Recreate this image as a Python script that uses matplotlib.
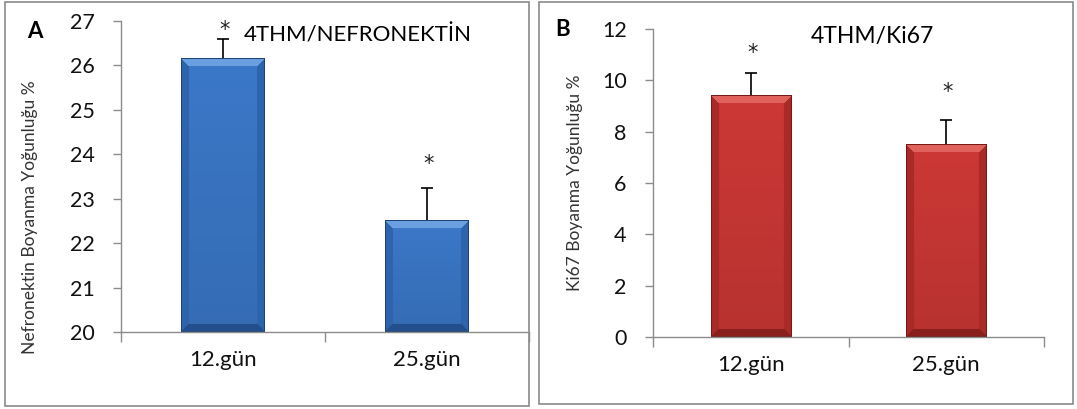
import numpy as np
import matplotlib.pyplot as plt
import matplotlib.patches as mpatches
from matplotlib.colors import to_rgb

plt.rcParams['font.family'] = ['Lato', 'DejaVu Sans']

# ---- data ----
days = ['12.gün', '25.gün']

nefro_mean = [26.15, 22.5]
nefro_err = [0.45, 0.75]

ki67_mean = [9.4, 7.5]
ki67_err = [0.9, 0.95]

W, H = 1077, 409
fig = plt.figure(figsize=(W / 100, H / 100), dpi=100)
fig.patch.set_facecolor('white')


def px(x0, y0, x1, y1):
    # pixel box (top-left origin) -> figure fraction [l, b, w, h]
    return [x0 / W, 1 - y1 / H, (x1 - x0) / W, (y1 - y0) / H]


def bevel_bar(ax, patch, face, top, side, bottom, depth=8):
    fig.canvas.draw()
    (x0, y0), (x1, y1) = ax.transData.transform(
        [(patch.get_x(), patch.get_y()),
         (patch.get_x() + patch.get_width(), patch.get_y() + patch.get_height())])
    w = max(int(round(x1 - x0)), 2)
    h = max(int(round(y1 - y0)), 2)
    img = np.zeros((h, w, 3))
    fc, tc, sc, bc = (np.array(to_rgb(c)) for c in (face, top, side, bottom))
    ii, jj = np.mgrid[0:h, 0:w]
    dt, db = ii, h - 1 - ii
    dl, dr = jj, w - 1 - jj
    # face with soft vertical shading
    shade = 1.0 - 0.10 * (ii / h)
    img[:] = fc * shade[..., None]
    dmin = np.minimum(np.minimum(dt, db), np.minimum(dl, dr))
    edge = dmin < depth
    side_m = edge & (np.minimum(dl, dr) == dmin)
    top_m = edge & (dt == dmin)
    bot_m = edge & (db == dmin) & ~top_m
    img[side_m] = sc
    img[top_m] = tc
    img[bot_m] = bc
    # thin dark outline
    outline = dmin < 1
    img[outline] = bc * 0.85
    ax.imshow(img, extent=(patch.get_x(), patch.get_x() + patch.get_width(),
                           patch.get_y(), patch.get_y() + patch.get_height()),
              aspect='auto', interpolation='bilinear', zorder=2)
    patch.set_visible(False)


def style_axes(ax, ymin, ymax, step):
    ax.set_xlim(-0.5, 1.5)
    ax.set_ylim(ymin, ymax)
    ax.set_yticks(np.arange(ymin, ymax + 0.01, step))
    ax.set_xticks([0, 1])
    ax.set_xticks([-0.5, 0.5, 1.5], minor=True)
    ax.set_xticklabels(days)
    for s in ['top', 'right']:
        ax.spines[s].set_visible(False)
    for s in ['left', 'bottom']:
        ax.spines[s].set_color('#8c8c8c')
        ax.spines[s].set_linewidth(1)
    ax.tick_params(axis='y', length=6, width=1, color='#8c8c8c', pad=13,
                   labelsize=15.5, labelcolor='#111111')
    ax.tick_params(axis='x', which='major', length=0, pad=13,
                   labelsize=16, labelcolor='#111111')
    ax.tick_params(axis='x', which='minor', length=7, width=1, color='#8c8c8c')
    ax.set_facecolor('none')


def draw_panel(ax, mean, err, ymin, ymax, step, colors, star_off):
    style_axes(ax, ymin, ymax, step)
    x = np.arange(len(mean))
    bars = ax.bar(x, np.array(mean) - ymin, bottom=ymin, width=0.41, zorder=2)
    ax.errorbar(x, mean, yerr=[np.zeros(len(err)), err], fmt='none',
                ecolor='black', elinewidth=1.2, capsize=4.5, capthick=1.2, zorder=1)
    for b in bars:
        bevel_bar(ax, b, *colors)
    for xi, m, e, off in zip(x, mean, err, star_off):
        ax.annotate('*', (xi, m + e), xytext=(1, off), textcoords='offset points',
                    ha='center', va='center', fontsize=15, color='#222222',
                    family='DejaVu Sans')


# ---- panel frames ----
for box in [(5, 2, 529, 406), (539, 2, 1073, 404)]:
    l, b, w, h = px(*box)
    fig.add_artist(mpatches.Rectangle((l, b), w, h, transform=fig.transFigure,
                                      fill=False, edgecolor='#8a8a8a', lw=1.2))

blue = ('#3b78c8', '#6a9fe0', '#2d64ad', '#234f8c')
red = ('#cc3835', '#e0625c', '#a92a26', '#8a1f1c')

# ---- A: nefronektin ----
axA = fig.add_axes(px(121, 21, 529, 332))
draw_panel(axA, nefro_mean, nefro_err, 20, 27, 1, blue, [6, 17])
axA.set_ylabel('Nefronektin Boyanma Yoğunluğu %', fontsize=12.5,
               color='#333333')
axA.yaxis.set_label_coords(-0.203, 0.37)
fig.text(27 / W, 1 - 31 / H, 'A', fontsize=16, fontweight='bold', va='center')
fig.text(244 / W, 1 - 35 / H, '4THM/NEFRONEKTİN', fontsize=16, va='center')

# ---- B: Ki67 ----
axB = fig.add_axes(px(653, 29, 1044, 337))
draw_panel(axB, ki67_mean, ki67_err, 0, 12, 2, red, [14, 20])
axB.set_ylabel('Ki67 Boyanma Yoğunluğu %', fontsize=12.5, color='#333333')
axB.yaxis.set_label_coords(-0.18, 0.5)
fig.text(555 / W, 1 - 30 / H, 'B', fontsize=16, fontweight='bold', va='center')
fig.text(811 / W, 1 - 37 / H, '4THM/Ki67', fontsize=16.5, va='center')

fig.savefig('out.png', dpi=100, facecolor='white')
